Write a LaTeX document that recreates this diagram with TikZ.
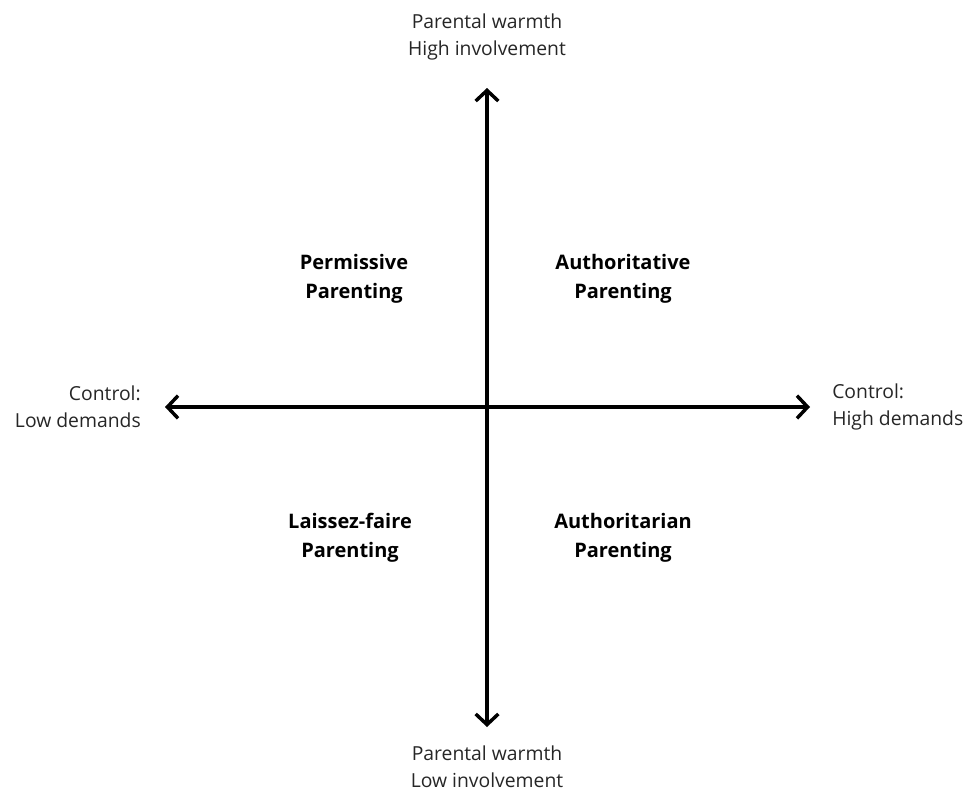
\documentclass[tikz,border=0pt]{standalone}
\usepackage{fontspec}
\setmainfont{Open Sans}
\usetikzlibrary{arrows.meta}
\begin{document}
\begin{tikzpicture}[x=0.75pt,y=-0.75pt,
  axis/.style={line width=3pt,{Straight Barb[length=8pt,width=17pt,line width=2.6pt]}-{Straight Barb[length=8pt,width=17pt,line width=2.6pt]}},
  lbl/.style={font=\fontsize{14.5}{20.25}\selectfont,text=black!85,inner sep=0pt},
  quad/.style={font=\fontsize{15}{21.75}\selectfont\bfseries,align=center,inner sep=0pt}]
\useasboundingbox (0,0) rectangle (966,792);
\coordinate (top) at (487,88);
\coordinate (bot) at (487,727);
\coordinate (left) at (165,407);
\coordinate (right) at (810,407);
\draw[axis] (top) -- (bot);
\draw[axis] (left) -- (right);
\node[lbl,align=center] (tl) at (487,37) {Parental warmth\\High involvement};
\node[lbl,align=center] (bl) at (487,767) {Parental warmth\\Low involvement};
\node[lbl,align=right,anchor=east] (ll) at (141,407) {Control:\\Low demands};
\node[lbl,align=left,anchor=west] (rl) at (832,407) {Control:\\High demands};
\node[quad] (perm) at (354,279) {Permissive\\Parenting};
\node[quad] (auth) at (623,279) {Authoritative\\Parenting};
\node[quad] (lais) at (350,538) {Laissez-faire\\Parenting};
\node[quad] (autr) at (623,538) {Authoritarian\\Parenting};
\end{tikzpicture}
\end{document}
